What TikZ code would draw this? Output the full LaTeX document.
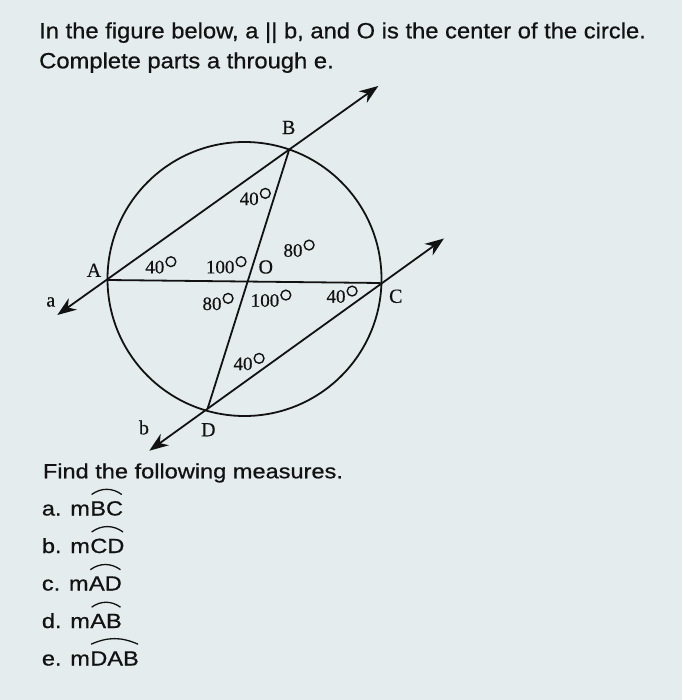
\documentclass[tikz,border=0pt]{standalone}
\usepackage{fontspec}
\setmainfont[FakeBold=0.4]{Liberation Serif}
\newfontfamily\hdfont[FakeStretch=1.08,FakeBold=0.7]{Liberation Sans}
\newfontfamily\qfont[FakeStretch=1.15,FakeBold=0.7]{Liberation Sans}
\usetikzlibrary{arrows.meta,calc}
\definecolor{bg}{RGB}{229,236,238}
\definecolor{ink}{RGB}{18,18,18}
\newcommand\angl[4]{\node[ang] (#1) at (#2,#3) {#4};
  \draw[ring] ($(#1.north east)+(6.4,1.2)$) circle (4.9);}
\begin{document}
\begin{tikzpicture}[x=1pt,y=-1pt,
  geo/.style={line width=1.8pt,draw=ink},
  arr/.style={geo,{Stealth[length=19pt,width=14pt,inset=6pt]}-{Stealth[length=19pt,width=14pt,inset=6pt]}},
  lab/.style={font=\fontsize{20}{20}\selectfont,text=ink,inner sep=0pt},
  ang/.style={font=\fontsize{19}{19}\selectfont,text=ink,inner sep=0pt},
  ring/.style={line width=1.4pt,draw=ink},
  hd/.style={font=\hdfont\fontsize{22}{22}\selectfont,anchor=base west,inner sep=0pt,text=ink},
  qs/.style={font=\qfont\fontsize{20.5}{20.5}\selectfont,anchor=base west,inner sep=0pt,text=ink},
  arcl/.style={line width=1.3pt,draw=ink}]
\fill[bg] (0,0) rectangle (682,700);
\useasboundingbox (0,0) rectangle (682,700);
% header
\node[hd] (h1) at (39,38.3) {In the figure below, a || b, and O is the center of the circle.};
\node[hd] (h2) at (39,68.3) {Complete parts a through e.};
% geometry
\coordinate (O) at (244.5,279);
\coordinate (A) at (107.7,280);
\coordinate (B) at (289.3,149.3);
\coordinate (C) at (380.7,283);
\coordinate (D) at (207.7,408.3);
\coordinate (a1) at (57.3,315);
\coordinate (a2) at (378.3,86);
\coordinate (b1) at (149.3,450.7);
\coordinate (b2) at (444,238.5);
\draw[geo] (O) circle (137);
\draw[geo] (A) -- (C);
\draw[geo] (B) -- (D);
\draw[arr] (a1) -- (a2);
\draw[arr] (b1) -- (b2);
% point labels
\node[lab] (lB) at (288.7,127.5) {B};
\node[lab] (lA) at (94,270.3) {A};
\node[lab] (la) at (50.8,302) {a};
\node[lab] (lC) at (395.8,296.3) {C};
\node[lab] (lO) at (265.8,267) {O};
\node[lab] (lD) at (208.3,429.7) {D};
\node[lab] (lb) at (144,427.5) {b};
% angle labels
\angl{t1}{249.2}{198.8}{40}
\angl{t2}{154.8}{267.1}{40}
\angl{t3}{220.2}{267.1}{100}
\angl{t4}{293}{250.5}{80}
\angl{t5}{212}{303.8}{80}
\angl{t6}{265}{300.5}{100}
\angl{t7}{336}{296.5}{40}
\angl{t8}{243}{363.8}{40}
% questions
\node[qs] (f) at (42.7,478.3) {Find the following measures.};
\node[qs] (ia) at (41.7,515.5) {a. m};
\node[qs] (ja) at (ia.base east) {BC};
\node[qs] (ib) at (41.7,553) {b. m};
\node[qs] (jb) at (ib.base east) {CD};
\node[qs] (ic) at (41.7,590.5) {c. m};
\node[qs] (jc) at (ic.base east) {AD};
\node[qs] (id) at (41.7,628) {d. m};
\node[qs] (jd) at (id.base east) {AB};
\node[qs] (ie) at (41.7,665.5) {e. m};
\node[qs] (je) at (ie.base east) {DAB};
\foreach \n in {ja,jb,jc,jd}{
  \draw[arcl] ($(\n.north west)+(1.5,-6.5)$) to[bend left=36] ($(\n.north east)+(-1.5,-6.5)$);
}
\draw[arcl] ($(je.north west)+(1,-7)$) to[bend left=24] ($(je.north east)+(-1,-7)$);
\end{tikzpicture}
\end{document}
